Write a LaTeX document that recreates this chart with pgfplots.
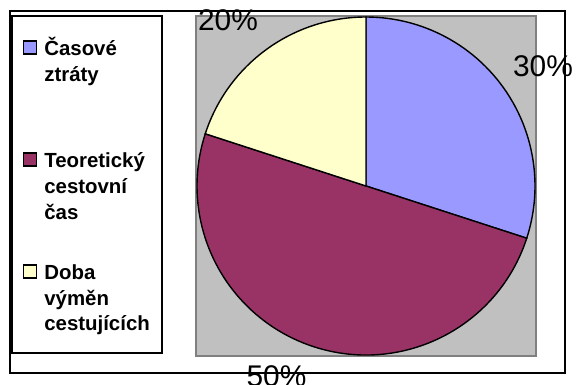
\documentclass[border=0pt]{standalone}
\usepackage{pgfplots}
\pgfplotsset{compat=1.18}
\usepackage{fontspec}
\setmainfont{Liberation Sans}
\definecolor{cblue}{HTML}{9999FF}
\definecolor{cpurple}{HTML}{993366}
\definecolor{cyellow}{HTML}{FFFFCC}
\definecolor{cgray}{HTML}{C0C0C0}
\definecolor{cframe}{HTML}{808080}
\begin{document}
\begin{tikzpicture}
\useasboundingbox (0,0) rectangle (576bp,385bp);
\fill[white] (0,0) rectangle (576bp,385bp);
\draw[line width=2bp] (10bp,12bp) rectangle (565bp,374bp);
% shares in percent
\def\va{30}\def\vb{50}\def\vc{20}
\pgfmathsetmacro\aA{90}
\pgfmathsetmacro\aB{90-3.6*\va}
\pgfmathsetmacro\aC{\aB-3.6*\vb}
\pgfmathsetmacro\aD{\aC-3.6*\vc}
\begin{axis}[
  at={(366bp,199bp)}, anchor=center,
  x=169bp, y=169bp,
  xmin=-1.006, xmax=1.006, ymin=-1.006, ymax=1.006,
  xtick=\empty, ytick=\empty,
  axis background/.style={fill=cgray},
  axis line style={draw=cframe, line width=1.5bp},
  clip=false,
  legend style={at={(axis cs:-2.1006,1.0118)}, anchor=north west, draw=black, line width=2bp,
    inner xsep=11bp, inner ysep=21bp, row sep=40.5bp, column sep=7bp,
    font=\bfseries\fontsize{20.5}{26}\selectfont,
    cells={anchor=base west}, nodes={inner sep=0pt}},
  legend image code/.code={\draw[#1, draw=black, line width=1.3bp] (0bp,53bp) rectangle (13bp,66bp);},
]
\addlegendimage{fill=cblue}
\addlegendentry{\makebox[107bp][l]{\begin{tabular}[b]{@{}l@{}}Časové\\ztráty\\\mbox{}\end{tabular}}}
\addlegendimage{fill=cpurple}
\addlegendentry{\makebox[107bp][l]{\begin{tabular}[b]{@{}l@{}}Teoretický\\cestovní\\čas\end{tabular}}}
\addlegendimage{fill=cyellow}
\addlegendentry{\makebox[107bp][l]{\begin{tabular}[b]{@{}l@{}}Doba\\výměn\\cestujících\end{tabular}}}
\fill[cblue, draw=black, line width=1.4bp] (axis cs:0,0) -- (axis cs:{cos(\aA)},{sin(\aA)}) arc[start angle=\aA, end angle=\aB, radius=169bp] -- cycle;
\fill[cpurple, draw=black, line width=1.4bp] (axis cs:0,0) -- (axis cs:{cos(\aB)},{sin(\aB)}) arc[start angle=\aB, end angle=\aC, radius=169bp] -- cycle;
\fill[cyellow, draw=black, line width=1.4bp] (axis cs:0,0) -- (axis cs:{cos(\aC)},{sin(\aC)}) arc[start angle=\aC, end angle=\aD, radius=169bp] -- cycle;
\node[anchor=base, font=\fontsize{30}{36}\selectfont] at (axis cs:1.047,0.645) {30\%};
\node[anchor=base, font=\fontsize{30}{36}\selectfont] at (axis cs:-0.817,0.923) {20\%};
\node[anchor=base, font=\fontsize{30}{36}\selectfont] at (axis cs:-0.530,-1.189) {50\%};
\end{axis}
\end{tikzpicture}
\end{document}
